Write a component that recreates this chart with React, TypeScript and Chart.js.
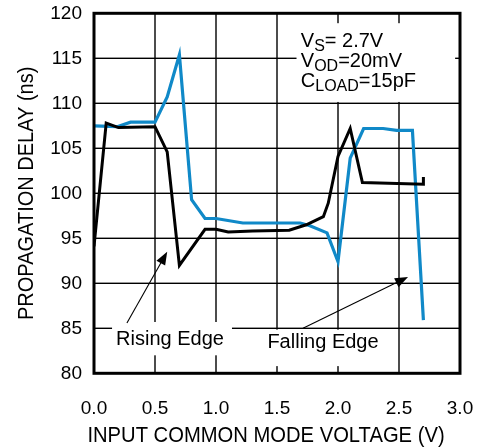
import React, { useEffect, useRef } from "react";
import { Chart, registerables } from "chart.js";

Chart.register(...registerables);

// ---- data ----
const risingX = [0.0, 0.1, 0.2, 0.5, 0.6, 0.7, 0.91, 1.0, 1.1, 1.3, 1.6, 1.74, 1.88, 1.92, 2.0, 2.1, 2.2, 2.7, 2.7];
const risingY = [94.1, 107.8, 107.3, 107.4, 104.6, 92.0, 96.0, 96.0, 95.7, 95.8, 95.9, 96.5, 97.4, 98.9, 104.1, 107.2, 101.2, 101.0, 101.8];

const fallingX = [0.0, 0.19, 0.3, 0.5, 0.6, 0.7, 0.8, 0.91, 1.0, 1.22, 1.5, 1.69, 1.77, 1.91, 2.0, 2.1, 2.21, 2.37, 2.48, 2.61, 2.7];
const fallingY = [107.5, 107.4, 107.9, 107.9, 110.7, 115.4, 99.3, 97.2, 97.2, 96.7, 96.7, 96.7, 96.4, 95.6, 92.4, 103.9, 107.2, 107.2, 107.0, 107.0, 85.9];

const xLabelTitle = "INPUT COMMON MODE VOLTAGE (V)";
const yLabelTitle = "PROPAGATION DELAY (ns)";
const seriesNames = ["Rising Edge", "Falling Edge"];

const FONT = "'Liberation Sans', Arial, Helvetica, sans-serif";
const BLUE = "#1089c8";

// annotation anchors in data units
const risingLabel = { x: 0.623, y: 83.8 };
const risingArrow = { x1: 0.27, y1: 85.6, x2: 0.6, y2: 93.5 };
const risingBox = { x1: 0.148, x2: 1.131, y1: 85.7, y2: 82.0 };
const fallingLabel = { x: 1.877, y: 83.4 };
const fallingArrow = { x1: 1.713, y1: 85.0, x2: 2.574, y2: 90.7 };
const fallingBox = { x1: 1.4, x2: 2.385, y1: 84.85, y2: 80.8 };
const condBox = { x1: 1.66, x2: 2.96, y1: 118.9, y2: 110.15 };
const condText = { x: 1.695, y: [116.3, 114.0, 111.8] };

function drawArrow(ctx: CanvasRenderingContext2D, x1: number, y1: number, x2: number, y2: number) {
  const ang = Math.atan2(y2 - y1, x2 - x1);
  const hl = 13, hw = 5;
  ctx.save();
  ctx.setLineDash([]);
  ctx.strokeStyle = "#000";
  ctx.fillStyle = "#000";
  ctx.lineWidth = 1.1;
  ctx.beginPath();
  ctx.moveTo(x1, y1);
  ctx.lineTo(x2 - Math.cos(ang) * hl * 0.8, y2 - Math.sin(ang) * hl * 0.8);
  ctx.stroke();
  ctx.beginPath();
  ctx.moveTo(x2, y2);
  ctx.lineTo(x2 - Math.cos(ang) * hl - Math.sin(ang) * hw, y2 - Math.sin(ang) * hl + Math.cos(ang) * hw);
  ctx.lineTo(x2 - Math.cos(ang) * hl + Math.sin(ang) * hw, y2 - Math.sin(ang) * hl - Math.cos(ang) * hw);
  ctx.closePath();
  ctx.fill();
  ctx.restore();
}

function drawSubText(ctx: CanvasRenderingContext2D, x: number, y: number, main: string, sub: string, rest: string) {
  ctx.font = `20px ${FONT}`;
  ctx.fillText(main, x, y);
  let cx = x + ctx.measureText(main).width;
  ctx.font = `16px ${FONT}`;
  ctx.fillText(sub, cx, y + 4);
  cx += ctx.measureText(sub).width;
  ctx.font = `20px ${FONT}`;
  ctx.fillText(rest, cx, y);
}

const annotPlugin = {
  id: "annot",
  beforeDatasetsDraw(chart: any) {
    const { ctx, scales, chartArea } = chart;
    const xs = scales.x, ys = scales.y;
    ctx.save();
    ctx.globalAlpha = 1;
    ctx.globalCompositeOperation = "source-over";
    // grid (filled bars)
    ctx.fillStyle = "#000";
    const w = chartArea.right - chartArea.left;
    const h = chartArea.bottom - chartArea.top;
    for (const t of xs.ticks) {
      const p = xs.getPixelForValue(t.value);
      ctx.fillRect(p - 0.7, chartArea.top, 1.4, h);
    }
    for (const t of ys.ticks) {
      const p = ys.getPixelForValue(t.value);
      ctx.fillRect(chartArea.left, p - 0.7, w, 1.4);
    }
    // white label boxes
    ctx.fillStyle = "#fff";
    for (const b of [risingBox, fallingBox, condBox]) {
      const l = xs.getPixelForValue(b.x1), r = xs.getPixelForValue(b.x2);
      const t = ys.getPixelForValue(b.y1), bt = ys.getPixelForValue(b.y2);
      ctx.fillRect(l, t, r - l, bt - t);
    }
    ctx.restore();
  },
  afterDatasetsDraw(chart: any) {
    const { ctx, scales, chartArea } = chart;
    const xs = scales.x, ys = scales.y;
    const px = (v: number) => xs.getPixelForValue(v);
    const py = (v: number) => ys.getPixelForValue(v);
    ctx.save();
    ctx.fillStyle = "#000";
    ctx.textAlign = "center";
    ctx.textBaseline = "middle";
    ctx.font = `20px ${FONT}`;
    ctx.fillText(seriesNames[0], px(risingLabel.x), py(risingLabel.y));
    ctx.fillText(seriesNames[1], px(fallingLabel.x), py(fallingLabel.y));
    drawArrow(ctx, px(risingArrow.x1), py(risingArrow.y1), px(risingArrow.x2), py(risingArrow.y2));
    drawArrow(ctx, px(fallingArrow.x1), py(fallingArrow.y1), px(fallingArrow.x2), py(fallingArrow.y2));

    ctx.textAlign = "left";
    ctx.textBaseline = "alphabetic";
    const tx = px(condText.x);
    drawSubText(ctx, tx, py(condText.y[0]), "V", "S", "= 2.7V");
    drawSubText(ctx, tx, py(condText.y[1]), "V", "OD", "=20mV");
    drawSubText(ctx, tx, py(condText.y[2]), "C", "LOAD", "=15pF");

    // frame
    ctx.setLineDash([]);
    ctx.strokeStyle = "#000";
    ctx.lineWidth = 3;
    ctx.strokeRect(chartArea.left, chartArea.top, chartArea.right - chartArea.left, chartArea.bottom - chartArea.top);

    // axis titles (slightly tall letterforms, as in the reference)
    ctx.fillStyle = "#000";
    ctx.font = `20px ${FONT}`;
    ctx.textAlign = "center";
    ctx.textBaseline = "alphabetic";
    ctx.save();
    ctx.translate((chartArea.left + chartArea.right) / 2 - 11, chartArea.bottom + 69);
    ctx.scale(1.01, 1.09);
    ctx.fillText(xLabelTitle, 0, 0);
    ctx.restore();
    ctx.save();
    ctx.translate(chartArea.left - 61.5, (chartArea.top + chartArea.bottom) / 2);
    ctx.rotate(-Math.PI / 2);
    ctx.scale(1.0, 1.14);
    ctx.fillText(yLabelTitle, 0, 0);
    ctx.restore();
    ctx.restore();
  },
};

const noPad = (s: any) => {
  s.paddingTop = 0;
  s.paddingBottom = 0;
  s.paddingLeft = 0;
  s.paddingRight = 0;
};

export default function App() {
  const ref = useRef<HTMLCanvasElement | null>(null);
  useEffect(() => {
    if (!ref.current) return;
    const chart = new Chart(ref.current, {
      type: "line",
      data: {
        datasets: [
          {
            label: seriesNames[0],
            data: risingX.map((x, i) => ({ x, y: risingY[i] })),
            borderColor: "#000",
            borderWidth: 3,
            pointRadius: 0,
            tension: 0,
            fill: false,
          },
          {
            label: seriesNames[1],
            data: fallingX.map((x, i) => ({ x, y: fallingY[i] })),
            borderColor: BLUE,
            borderWidth: 3.2,
            pointRadius: 0,
            tension: 0,
            fill: false,
          },
        ],
      },
      options: {
        animation: false,
        responsive: false,
        maintainAspectRatio: false,
        layout: { padding: { top: 13.3, right: 23, left: 0, bottom: 0 } },
        plugins: { legend: { display: false }, tooltip: { enabled: false } },
        scales: {
          x: {
            type: "linear",
            min: 0,
            max: 3,
            ticks: {
              stepSize: 0.5,
              callback: (v: any) => Number(v).toFixed(1),
              font: { family: FONT, size: 19 },
              color: "#000",
              padding: 24,
              maxRotation: 0,
            },
            grid: { display: false, drawTicks: false },
            border: { display: false },
            title: { display: false, text: xLabelTitle },
            afterFit: (s: any) => {
              s.height = 73.7;
              noPad(s);
            },
          },
          y: {
            type: "linear",
            min: 80,
            max: 120,
            ticks: {
              stepSize: 5,
              font: { family: FONT, size: 19 },
              color: "#000",
              padding: 12,
            },
            grid: { display: false, drawTicks: false },
            border: { display: false },
            title: { display: false, text: yLabelTitle },
            afterFit: (s: any) => {
              s.width = 94;
              noPad(s);
            },
          },
        },
      } as any,
      plugins: [annotPlugin],
    });
    return () => chart.destroy();
  }, []);
  return (
    <div style={{ position: "fixed", left: 0, top: 0, width: 483, height: 447, background: "#fff" }}>
      <canvas ref={ref} width={483} height={447} style={{ width: 483, height: 447, display: "block" }} />
    </div>
  );
}
